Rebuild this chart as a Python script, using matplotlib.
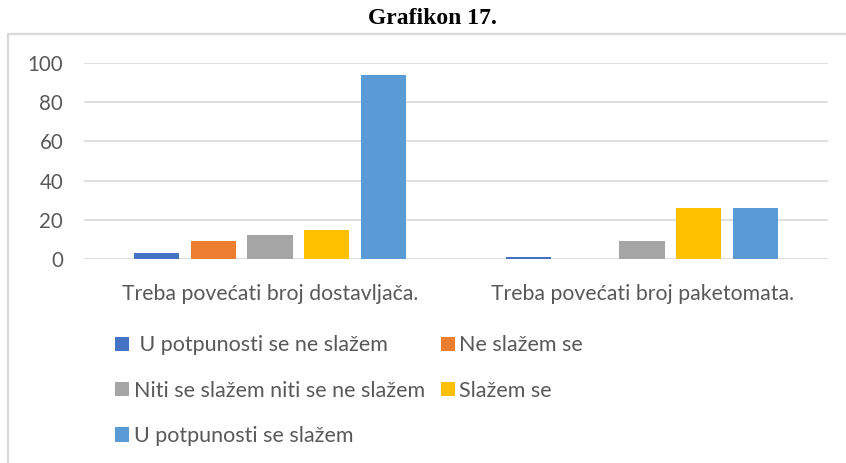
import matplotlib
matplotlib.use("Agg")
import matplotlib.pyplot as plt
from matplotlib.patches import Rectangle, Patch
import numpy as np

categories = ["Treba povećati broj dostavljača.", "Treba povećati broj paketomata."]
series_names = [" U potpunosti se ne slažem", "Ne slažem se",
                "Niti se slažem niti se ne slažem", "Slažem se",
                "U potpunosti se slažem"]
series_values = [
    [3, 1],
    [9, 0],
    [12, 9],
    [15, 26],
    [94, 26],
]
series_colors = ["#4472C4", "#ED7D31", "#A5A5A5", "#FFC000", "#5B9BD5"]
y_ticks = [0, 20, 40, 60, 80, 100]

W, H = 846, 463
fig = plt.figure(figsize=(W / 100, H / 100), dpi=100)
fig.patch.set_facecolor("white")

# chart frame (only top/left visible in the crop)
fig.patches.append(Rectangle((7.5 / W, -0.1), 1.2, 1 - 33.5 / H + 0.1,
                             transform=fig.transFigure, fill=False,
                             edgecolor="#D9D9D9", linewidth=1.6))

fig.text(432 / W, 1 - 19 / H, "Grafikon 17.", ha="center", va="center",
         fontsize=17, fontweight="bold", family="Liberation Serif", color="black")

ax = fig.add_axes([84 / W, 1 - 259 / H, (828 - 84) / W, (259 - 63) / H])
ax.set_facecolor("none")

step = 0.153
width = 0.121
x = np.arange(len(categories))
for i, (vals, col) in enumerate(zip(series_values, series_colors)):
    offs = (i - 2) * step
    ax.bar(x + offs, vals, width, color=col, zorder=3)

ax.set_xlim(-0.5, 1.5)
ax.set_ylim(0, 100)
ax.set_yticks(y_ticks)
ax.set_xticks(x)
ax.set_xticklabels(categories)
ax.grid(axis="y", color="#D9D9D9", linewidth=1.2, zorder=0)
for s in ax.spines.values():
    s.set_visible(False)
ax.tick_params(axis="both", length=0, colors="#595959")
ax.tick_params(axis="y", pad=15, labelsize=14.8)
ax.tick_params(axis="x", pad=18, labelsize=15.3)
for lab in ax.get_xticklabels() + ax.get_yticklabels():
    lab.set_family("Lato")

order = [0, 2, 4, 1, 3]
handles = [Patch(facecolor=series_colors[k]) for k in order]
labels = [series_names[k] for k in order]
leg = fig.legend(handles, labels, ncol=2, loc="upper left",
                 bbox_to_anchor=(96 / W, 1 - 316 / H), frameon=False,
                 prop={"family": "Lato", "size": 15.5}, labelcolor="#595959",
                 handlelength=0.65, handleheight=0.65, handletextpad=0.2,
                 columnspacing=0.75, labelspacing=1.18)

fig.savefig("out.png", dpi=100)
